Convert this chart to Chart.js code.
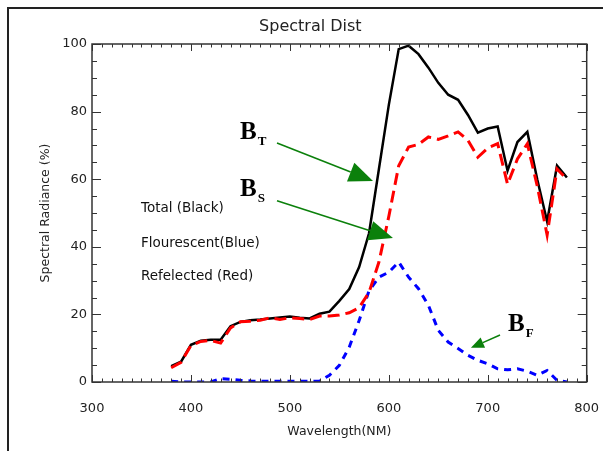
<!DOCTYPE html>
<html>
<head>
<meta charset="utf-8">
<script src="https://cdn.jsdelivr.net/npm/chart.js@4.4.0/dist/chart.umd.min.js"></script>
<style>
html,body{margin:0;padding:0;background:#fff;}
#wrap{position:relative;width:603px;height:451px;}
</style>
</head>
<body>
<div id="wrap"><canvas id="chart" width="603" height="451"></canvas></div>
<script>
// wavelength samples (nm)
const wavelengths = [380,390,400,410,420,430,440,450,460,470,480,490,500,510,520,530,540,550,560,570,
                     580,590,600,610,620,630,640,650,660,670,680,690,700,710,720,730,740,750,760,770,780];
// total radiance (black)
const total = [4.7,6.0,11.0,12.2,12.5,12.5,16.5,17.8,18.3,18.5,18.8,19.1,19.4,19.0,18.8,20.2,20.8,24.0,27.5,34.0,
               44.0,63.0,82.0,98.5,99.5,97.0,93.0,88.5,85.0,83.5,79.0,73.8,75.0,75.6,62.5,71.0,74.0,60.0,47.5,64.0,60.5];
// reflected (red)
const reflected = [4.2,5.8,10.8,12.0,12.3,11.5,16.0,17.8,18.0,18.3,19.0,18.5,19.0,18.8,18.5,19.5,19.5,19.8,20.5,22.0,
                   26.5,35.5,49.0,64.0,69.5,70.3,72.5,71.8,72.8,74.0,71.5,66.5,69.2,70.5,58.5,66.0,70.5,58.0,43.5,63.0,60.0];
// fluorescent (blue)
const fluorescent = [0.2,0.0,0.0,0.0,0.0,1.0,0.8,0.5,0.3,0.2,0.2,0.2,0.2,0.2,0.2,0.3,2.0,4.9,10.3,18.2,
                     27.0,31.0,32.5,35.5,31.0,27.6,22.7,15.3,11.8,9.9,7.9,6.4,5.4,3.9,3.6,3.9,3.2,2.0,3.4,0.5,0.0];

const xTicks = [300,400,500,600,700,800];
const yTicks = [0,20,40,60,80,100];

// text notes inside the plot: [text, x, y]
const notes = [
  ['Total (Black)', 349.5, 51.2],
  ['Flourescent(Blue)', 349.5, 41.1],
  ['Refelected (Red)', 349.5, 31.1]
];
// arrow labels: [main, subscript, x, y]
const labels = [
  ['B', 'T', 449.6, 71.8],
  ['B', 'S', 449.6, 55.0],
  ['B', 'F', 720.5, 15.1]
];
// arrows: [x0, y0, x1 (tip), y1 (tip), big head?]
const arrows = [
  [487, 70.7, 584, 59.5, true],
  [487, 53.6, 604.2, 42.6, true],
  [712.4, 13.9, 683, 10.1, false]
];

const pts = arr => arr.map((v, i) => ({x: wavelengths[i], y: v}));

const decor = {
  id: 'decor',
  beforeDraw(chart) {
    const ctx = chart.ctx;
    ctx.save();
    ctx.fillStyle = '#fff';
    ctx.fillRect(0, 0, chart.width, chart.height);
    ctx.strokeStyle = '#222';
    ctx.lineWidth = 2;
    ctx.beginPath();
    ctx.moveTo(8, chart.height);
    ctx.lineTo(8, 8);
    ctx.lineTo(chart.width, 8);
    ctx.stroke();
    ctx.restore();
  },
  afterDatasetsDraw(chart) {
    const ctx = chart.ctx;
    const a = chart.chartArea;
    const xs = chart.scales.x, ys = chart.scales.y;
    ctx.save();
    // box
    ctx.strokeStyle = '#333';
    ctx.lineWidth = 1.5;
    ctx.strokeRect(a.left, a.top, a.right - a.left, a.bottom - a.top);
    // inward ticks
    ctx.lineWidth = 1;
    ctx.beginPath();
    for (let v = xs.min; v <= xs.max; v += 10) {
      const px = Math.round(xs.getPixelForValue(v)) + 0.5;
      const len = (v % 100 === 0) ? 7 : 3.5;
      ctx.moveTo(px, a.bottom); ctx.lineTo(px, a.bottom - len);
      ctx.moveTo(px, a.top); ctx.lineTo(px, a.top + len);
    }
    for (let v = ys.min; v <= ys.max; v += 5) {
      const py = Math.round(ys.getPixelForValue(v)) + 0.5;
      const len = (v % 20 === 0) ? 9 : 5;
      ctx.moveTo(a.left, py); ctx.lineTo(a.left + len, py);
      ctx.moveTo(a.right, py); ctx.lineTo(a.right - len, py);
    }
    ctx.stroke();

    // notes
    ctx.fillStyle = '#111';
    ctx.font = '13.5px "DejaVu Sans"';
    ctx.textBaseline = 'middle';
    ctx.textAlign = 'left';
    notes.forEach(n => ctx.fillText(n[0], xs.getPixelForValue(n[1]), ys.getPixelForValue(n[2])));

    // arrows
    ctx.strokeStyle = '#0b800b';
    ctx.fillStyle = '#0b800b';
    arrows.forEach(ar => {
      const x0 = xs.getPixelForValue(ar[0]), y0 = ys.getPixelForValue(ar[1]);
      const x1 = xs.getPixelForValue(ar[2]), y1 = ys.getPixelForValue(ar[3]);
      const hl = ar[4] ? 24 : 13, hw = ar[4] ? 10 : 5.5;
      const ang = Math.atan2(y1 - y0, x1 - x0);
      const bx = x1 - hl * Math.cos(ang), by = y1 - hl * Math.sin(ang);
      ctx.lineWidth = 1.6;
      ctx.beginPath();
      ctx.moveTo(x0, y0); ctx.lineTo(bx, by);
      ctx.stroke();
      ctx.beginPath();
      ctx.moveTo(x1, y1);
      ctx.lineTo(bx + hw * Math.sin(ang), by - hw * Math.cos(ang));
      ctx.lineTo(bx - hw * Math.sin(ang), by + hw * Math.cos(ang));
      ctx.closePath();
      ctx.fill();
    });

    // B labels
    ctx.fillStyle = '#000';
    ctx.textBaseline = 'alphabetic';
    labels.forEach(l => {
      const px = xs.getPixelForValue(l[2]), py = ys.getPixelForValue(l[3]);
      ctx.font = 'bold 25px "Liberation Serif"';
      ctx.fillText(l[0], px, py);
      const w = ctx.measureText(l[0]).width;
      ctx.font = 'bold 13px "Liberation Serif"';
      ctx.fillText(l[1], px + w + 1, py + 6);
    });
    ctx.restore();
  }
};

const ctx = document.getElementById('chart').getContext('2d');
const chart = new Chart(ctx, {
  type: 'line',
  data: {
    datasets: [
      {label: 'Reflected', data: pts(reflected), borderColor: '#ff0000', borderWidth: 3,
       borderDash: [12, 6], pointRadius: 0, fill: false, tension: 0, order: 0},
      {label: 'Total', data: pts(total), borderColor: '#000000', borderWidth: 2.5,
       pointRadius: 0, fill: false, tension: 0, order: 1},
      {label: 'Fluorescent', data: pts(fluorescent), borderColor: '#0000ff', borderWidth: 3,
       borderDash: [7, 6], pointRadius: 0, fill: false, tension: 0, order: 2}
    ]
  },
  options: {
    responsive: false,
    animation: false,
    devicePixelRatio: 1,
    layout: {padding: {left: 34, right: 16.3, top: 9, bottom: 8}},
    plugins: {
      legend: {display: false},
      tooltip: {enabled: false},
      title: {
        display: true,
        text: 'Spectral Dist',
        color: '#222',
        font: {family: 'DejaVu Sans', size: 16, weight: 'normal'},
        padding: {top: 8.4, bottom: 7.4}
      }
    },
    scales: {
      x: {
        type: 'linear',
        min: 300, max: 800,
        afterBuildTicks: s => { s.ticks = xTicks.map(v => ({value: v})); },
        afterFit: s => { s.height = 61; s.paddingLeft = 0; s.paddingRight = 0; },
        grid: {display: false, drawTicks: false},
        border: {display: false},
        ticks: {color: '#222', padding: 19, maxRotation: 0, font: {family: 'DejaVu Sans', size: 13}},
        title: {display: true, text: 'Wavelength(NM)', color: '#222',
                font: {family: 'DejaVu Sans', size: 12.5}, padding: {top: 4, bottom: 4}}
      },
      y: {
        min: 0, max: 100,
        afterBuildTicks: s => { s.ticks = yTicks.map(v => ({value: v})); },
        afterFit: s => { s.width = 58; s.paddingTop = 0; s.paddingBottom = 0; },
        grid: {display: false, drawTicks: false},
        border: {display: false},
        ticks: {color: '#222', padding: 5, font: {family: 'DejaVu Sans', size: 13}},
        title: {display: true, text: 'Spectral Radiance (%)', color: '#222',
                font: {family: 'DejaVu Sans', size: 12.5}, padding: {top: 4, bottom: 4}}
      }
    }
  },
  plugins: [decor]
});
</script>
</body>
</html>
